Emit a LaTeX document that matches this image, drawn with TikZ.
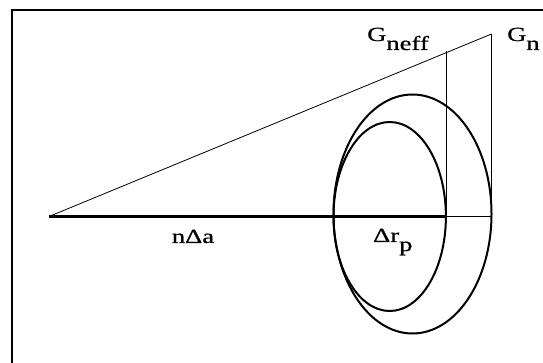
\documentclass[tikz,border=0pt]{standalone}
\usepackage{fontspec}
\setmainfont{Liberation Serif}
\newfontfamily\lblfont[FakeStretch=1.33, FakeBold=0.8]{Liberation Serif}
\usetikzlibrary{positioning}

\newcommand{\lowsub}[1]{\raisebox{-9pt}{#1}}

\begin{document}
\begin{tikzpicture}[
    x=1pt, y=-1pt,
    thinline/.style={line width=0.8pt},
    thickline/.style={line width=2.4pt},
    orbit/.style={line width=2pt},
    label/.style={inner sep=0pt, font=\lblfont\fontsize{20}{22}\selectfont}
]
    \useasboundingbox (0,0) rectangle (543,363);
    % frame, cut off by the page
    \draw[line width=2.6pt] (12,363) -- (12,10) -- (543,10);

    \coordinate (origin) at (49,216.5);
    \coordinate (gneff) at (446,51);
    \coordinate (gn) at (491.5,34);
    \coordinate (footeff) at (446,216.5);
    \coordinate (footn) at (491.5,216.5);

    % ellipses
    \draw[orbit] (389.7,216.5) ellipse [x radius=56.2, y radius=94.5];
    \draw[orbit] (412.5,214) ellipse [x radius=79, y radius=119.5];

    % triangle
    \draw[thinline] (origin) -- (gn);
    \draw[thinline] (gneff) -- (footeff);
    \draw[thinline] (gn) -- (footn);
    \draw[thickline] (origin) -- (footeff);
    \draw[thinline] (footeff) -- (footn);

    % labels
    \node[label, anchor=base west] (lgneff) at (367,41) {G\lowsub{neff}};
    \node[label, anchor=base west] (lgn) at (507,41) {G\lowsub{n}};
    \node[label, anchor=base] (lda) at (193,243) {nΔa};
    \node[label, anchor=base west] (ldr) at (373,242) {Δr\lowsub{p}};
\end{tikzpicture}
\end{document}
